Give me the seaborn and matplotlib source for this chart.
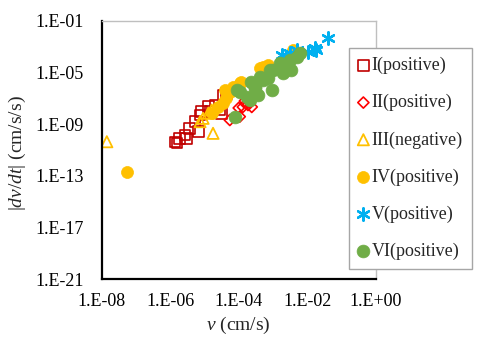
import numpy as np
import pandas as pd
import matplotlib
matplotlib.use("Agg")
import matplotlib.pyplot as plt
import seaborn as sns

# ---- data (log10 values) ----
I_logv = [-5.86, -5.80, -5.72, -5.57, -5.52, -5.43, -5.18, -5.28, -5.13, -5.08, -4.89, -4.84, -4.67, -4.50, -4.45, -4.36, -4.55]
I_loga = [-10.38, -10.45, -10.09, -9.84, -10.09, -9.32, -9.58, -8.81, -8.29, -8.04, -7.65, -8.04, -7.52, -8.16, -6.75, -6.61, -7.90]

II_logv = [-4.26, -3.97, -3.88, -3.73, -3.68, -3.82, -4.00, -3.62]
II_loga = [-8.68, -8.42, -7.67, -7.52, -7.29, -7.21, -7.75, -7.67]

III_logv = [-7.85, -4.75, -5.04, -4.89, -5.13, -4.79]
III_loga = [-10.36, -9.71, -8.55, -8.16, -8.81, -7.91]

IV_logv = [-7.27, -4.79, -4.60, -4.45, -4.36, -4.41, -4.26, -4.16, -3.97, -3.92, -3.39, -3.29, -3.14, -2.41]
IV_loga = [-12.72, -8.16, -7.65, -7.39, -7.00, -6.36, -6.49, -6.10, -5.84, -5.72, -4.68, -4.56, -4.43, -3.27]

V_logv = [-2.75, -2.51, -2.31, -1.98, -1.78, -1.73, -1.39]
V_loga = [-3.65, -3.52, -3.27, -3.40, -3.13, -3.27, -2.36]

VI_logv = [-4.11, -3.97, -4.06, -3.77, -3.68, -3.63, -3.43, -3.39, -3.29, -3.14, -3.04, -3.09, -2.99, -2.80, -2.61, -2.51, -2.31, -2.22, -3.53, -2.71, -2.46, -3.53]
VI_loga = [-8.42, -6.49, -6.36, -6.88, -7.13, -5.72, -6.75, -5.33, -5.59, -5.45, -6.36, -4.81, -4.81, -4.29, -4.43, -4.04, -3.78, -3.52, -6.20, -5.07, -4.81, -6.10]

series_labels = ["I(positive)", "II(positive)", "III(negative)", "IV(positive)", "V(positive)", "VI(positive)"]
xticks = [1e-8, 1e-6, 1e-4, 1e-2, 1e0]
xticklabels = ["1.E-08", "1.E-06", "1.E-04", "1.E-02", "1.E+00"]
yticks = [1e-21, 1e-17, 1e-13, 1e-9, 1e-5, 1e-1]
yticklabels = ["1.E-21", "1.E-17", "1.E-13", "1.E-09", "1.E-05", "1.E-01"]

all_logv = [I_logv, II_logv, III_logv, IV_logv, V_logv, VI_logv]
all_loga = [I_loga, II_loga, III_loga, IV_loga, V_loga, VI_loga]
frames = []
for lab, lv, la in zip(series_labels, all_logv, all_loga):
    frames.append(pd.DataFrame({"v": 10.0 ** np.array(lv), "a": 10.0 ** np.array(la), "series": lab}))
df = pd.concat(frames, ignore_index=True)

# ---- style ----
sns.set_style("white")
plt.rcParams["font.family"] = ["Liberation Serif", "DejaVu Serif"]
plt.rcParams["mathtext.fontset"] = "custom"
plt.rcParams["mathtext.rm"] = "Liberation Serif"
plt.rcParams["mathtext.it"] = "Liberation Serif:italic"

fig = plt.figure(figsize=(4.88, 3.37), dpi=100)
ax = fig.add_axes([0.2084, 0.1712, 0.5616, 0.7674])

styles = [
    dict(marker="s", s=60, fc="none", ec="#C00000", lw=1.2),
    dict(marker="D", s=32, fc="none", ec="#FF0000", lw=1.2),
    dict(marker="^", s=65, fc="none", ec="#FFC000", lw=1.3),
    dict(marker="o", s=75, fc="#FFC000", ec="#FFC000", lw=0.5),
    dict(marker=(6, 2, 0), s=80, fc="#00B0F0", ec="#00B0F0", lw=1.7),
    dict(marker="o", s=85, fc="#70AD47", ec="#70AD47", lw=0.5),
]

for lab, st in zip(series_labels, styles):
    sub = df[df["series"] == lab]
    n_before = len(ax.collections)
    sns.scatterplot(data=sub, x="v", y="a", marker=st["marker"], s=st["s"],
                    color=st["ec"], linewidth=st["lw"], ax=ax, label=lab, legend=False)
    coll = ax.collections[n_before]
    coll.set_facecolor(st["fc"])
    coll.set_edgecolor(st["ec"])
    coll.set_linewidth(st["lw"])
    coll.set_label(lab)

ax.set_xscale("log")
ax.set_yscale("log")
ax.set_xlim(1e-8, 1e0)
ax.set_ylim(1e-21, 1e-1)
ax.set_xticks(xticks)
ax.set_xticklabels(xticklabels)
ax.set_yticks(yticks)
ax.set_yticklabels(yticklabels)
ax.minorticks_off()
ax.tick_params(axis="both", which="major", direction="in", length=4, width=1.3,
               labelsize=13, pad=10, colors="black")
ax.tick_params(axis="y", pad=13)

for side in ["left", "bottom"]:
    ax.spines[side].set_color("black")
    ax.spines[side].set_linewidth(1.6)
for side in ["top", "right"]:
    ax.spines[side].set_color("#BFBFBF")
    ax.spines[side].set_linewidth(1.0)
    ax.spines[side].set_visible(True)

ax.set_xlabel(r"$\it{v}$ (cm/s)", fontsize=14)
ax.set_ylabel(r"|$\it{dv/dt}$| (cm/s/s)", fontsize=14)
ax.xaxis.set_label_coords(0.5, -0.138)
ax.yaxis.set_label_coords(-0.268, 0.488)

handles = ax.collections[:6]
leg = ax.legend(handles=handles, labels=series_labels, loc="upper left",
                bbox_to_anchor=(0.715, 0.858), bbox_transform=fig.transFigure,
                fontsize=13, frameon=True, fancybox=False, edgecolor="#A6A6A6",
                framealpha=1, labelspacing=1.1, handlelength=0.6, handletextpad=0.15,
                borderpad=0.5, borderaxespad=0)
leg.get_frame().set_linewidth(1.0)

fig.savefig("out.png", dpi=100)
